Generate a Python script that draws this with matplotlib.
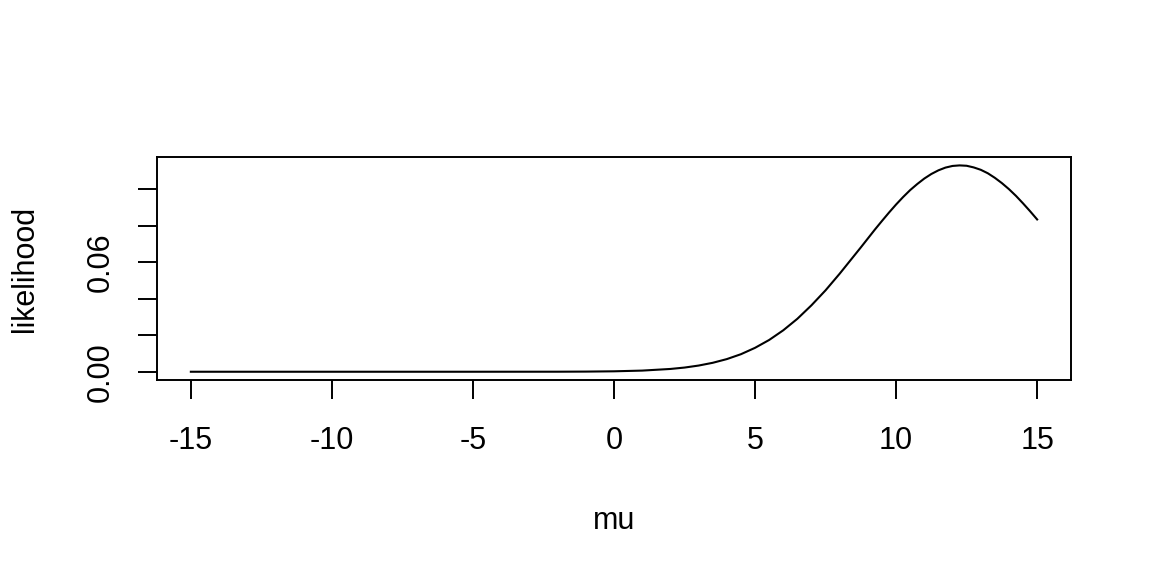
import matplotlib.pyplot as plt

plt.rcParams['font.family'] = ['Liberation Sans', 'DejaVu Sans']

# likelihood curve
mu = [-15, -10, -5, -2, -1, 0, 1, 2, 2.5, 3, 3.5, 4, 4.5, 5, 5.5, 6, 6.5, 7,
      7.5, 8, 8.5, 8.75, 9, 9.25, 9.5, 9.75, 10, 10.25, 10.5, 10.75, 11, 11.25,
      11.5, 11.75, 12, 12.25, 12.5, 12.75, 13, 13.25, 13.5, 13.75, 14, 14.25,
      14.5, 14.75, 15]
likelihood = [0.0, 0.0, 0.0, 0.00002, 0.00008, 0.00024, 0.00063, 0.00153,
              0.00229, 0.00339, 0.0049, 0.00693, 0.00961, 0.0131, 0.0174,
              0.0227, 0.029, 0.0364, 0.0446, 0.0537, 0.0633, 0.0681, 0.073,
              0.0779, 0.0826, 0.0872, 0.0916, 0.0957, 0.0995, 0.1028, 0.1058,
              0.1083, 0.1103, 0.1118, 0.1127, 0.113, 0.1128, 0.1119, 0.1106,
              0.1087, 0.1062, 0.1033, 0.1, 0.0963, 0.0922, 0.0879, 0.0834]

x_ticks = [-15, -10, -5, 0, 5, 10, 15]
y_ticks = [0.0, 0.02, 0.04, 0.06, 0.08, 0.10]
y_labels = ['0.00', '', '', '0.06', '', '']

fig = plt.figure(figsize=(11.52, 5.76), dpi=100)
ax = fig.add_axes([157 / 1152, 1 - 380 / 576, (1071 - 157) / 1152, (380 - 157) / 576])

ax.plot(mu, likelihood, color='black', linewidth=1.5)

ax.set_xlim(-16.2, 16.2)
ax.set_ylim(-0.00452, 0.1176)
ax.set_xticks(x_ticks)
ax.set_xticklabels([str(t) for t in x_ticks])
ax.set_yticks(y_ticks)
ax.set_yticklabels(y_labels, rotation=90, va='center')

for s in ax.spines.values():
    s.set_linewidth(1.4)
ax.tick_params(axis='both', direction='out', length=14, width=1.4,
               labelsize=22, colors='black')
ax.tick_params(axis='x', pad=19)
ax.tick_params(axis='y', pad=15.5)

ax.set_xlabel('mu', fontsize=22, labelpad=36)
ax.set_ylabel('likelihood', fontsize=22, labelpad=33)

fig.savefig('out.png', dpi=100)
